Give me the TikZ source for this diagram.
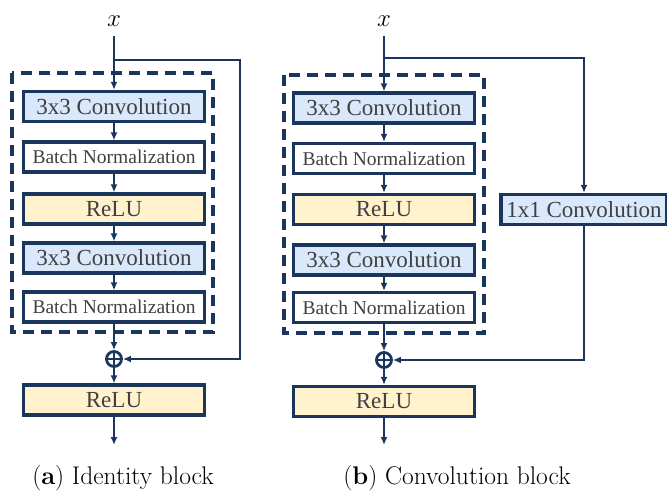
\documentclass[tikz,border=0pt]{standalone}
\usepackage{fontspec}
\usetikzlibrary{arrows.meta,positioning}
\newfontfamily\boxfont{Liberation Serif}
\definecolor{navy}{HTML}{1B365D}
\definecolor{convblue}{HTML}{DAE8FC}
\definecolor{reluyellow}{HTML}{FFF2CC}
\definecolor{txtgray}{HTML}{404040}

\tikzset{
  block/.style={draw=navy, line width=3.2pt, minimum width=181pt, minimum height=30pt,
    inner sep=0pt, text=txtgray, font=\boxfont\fontsize{23}{25}\selectfont},
  conv/.style={block, fill=convblue},
  bnorm/.style={block, fill=white, font=\boxfont\fontsize{19.5}{22}\selectfont},
  relu/.style={block, fill=reluyellow},
  arr/.style={-{Latex[length=8pt,width=7pt]}, draw=navy, line width=2.4pt},
  addop/.style={circle, draw=navy, line width=2.8pt, minimum size=15pt, inner sep=0pt},
  group/.style={draw=navy, line width=3.2pt, dash pattern=on 11pt off 7pt},
  caption/.style={font=\fontsize{25.5}{28}\selectfont},
}

\begin{document}
\begin{tikzpicture}[x=1pt, y=-1pt, every node/.style={font=\fontsize{25}{27}\selectfont}]
  \useasboundingbox (0,0) rectangle (667,492);

  % identity block
  \node (xA) at (114,21) {$x$};
  \node[conv] (convA1) at (114,106.5) {3x3 Convolution};
  \node[bnorm] (bnA1) at (114,157) {Batch Normalization};
  \node[relu] (reluA1) at (114,209) {ReLU};
  \node[conv] (convA2) at (114,258) {3x3 Convolution};
  \node[bnorm] (bnA2) at (114,307) {Batch Normalization};
  \node[addop] (addA) at (114,359) {};
  \node[relu] (reluA) at (114,400) {ReLU};
  \coordinate (splitA) at (114,60);
  \coordinate (turnA) at (240,60);
  \coordinate (outA) at (114,445);
  \draw[group] (12,73) rectangle (213,332);
  \draw[navy, line width=2.2pt] (addA.north) -- (addA.south) (addA.west) -- (addA.east);

  \draw[arr, shorten <=6pt] (xA) -- (convA1);
  \draw[arr] (convA1) -- (bnA1);
  \draw[arr] (bnA1) -- (reluA1);
  \draw[arr] (reluA1) -- (convA2);
  \draw[arr] (convA2) -- (bnA2);
  \draw[arr] (bnA2) -- (addA);
  \draw[arr] (addA) -- (reluA);
  \draw[arr] (reluA) -- (outA);
  \draw[arr] (splitA) -- (turnA) |- (addA);

  % convolution block
  \node (xB) at (384,21) {$x$};
  \node[conv] (convB1) at (384,108) {3x3 Convolution};
  \node[bnorm] (bnB1) at (384,158.5) {Batch Normalization};
  \node[relu] (reluB1) at (384,209.5) {ReLU};
  \node[conv] (convB2) at (384,260) {3x3 Convolution};
  \node[bnorm] (bnB2) at (384,307.5) {Batch Normalization};
  \node[addop] (addB) at (384,360) {};
  \node[relu] (reluB) at (384,401.5) {ReLU};
  \node[conv, minimum width=166pt] (convB0) at (584,209.5) {1x1 Convolution};
  \coordinate (splitB) at (384,58);
  \coordinate (outB) at (384,445);
  \draw[group] (284,75) rectangle (484,333);
  \draw[navy, line width=2.2pt] (addB.north) -- (addB.south) (addB.west) -- (addB.east);

  \draw[arr, shorten <=6pt] (xB) -- (convB1);
  \draw[arr] (convB1) -- (bnB1);
  \draw[arr] (bnB1) -- (reluB1);
  \draw[arr] (reluB1) -- (convB2);
  \draw[arr] (convB2) -- (bnB2);
  \draw[arr] (bnB2) -- (addB);
  \draw[arr] (addB) -- (reluB);
  \draw[arr] (reluB) -- (outB);
  \draw[arr] (splitB) -| (convB0);
  \draw[arr] (convB0) |- (addB);

  % captions
  \node[caption] (capA) at (123,478) {(\textbf{a}) Identity block};
  \node[caption] (capB) at (457,478) {(\textbf{b}) Convolution block};
\end{tikzpicture}
\end{document}
